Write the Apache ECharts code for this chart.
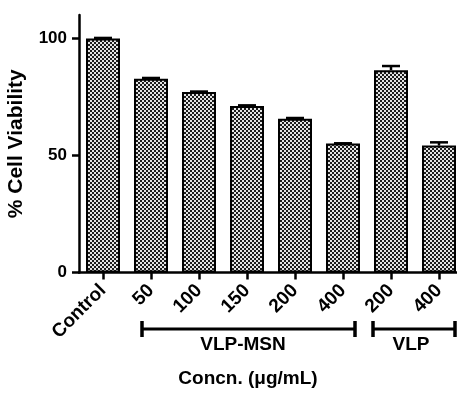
<!DOCTYPE html>
<html>
<head>
<meta charset="utf-8">
<script src="https://cdn.jsdelivr.net/npm/echarts@6/dist/echarts.min.js"></script>
<style>
  html, body { margin: 0; padding: 0; background: #fff; }
  #chart { width: 457px; height: 394px; }
</style>
</head>
<body>
<div id="chart"></div>
<script>
// Cell viability by treatment and concentration
const categories = ['Control', '50', '100', '150', '200', '400', '200', '400'];
const viability = [100, 82.8, 77.1, 71.1, 65.7, 55.1, 86.4, 54.2];
const errorSD = [0.2, 0.3, 0.2, 0.3, 0.3, 0.1, 1.8, 1.4];
const yTicks = [0, 50, 100];

// Treatment groups: name and the first/last category index they cover
const groupNames = ['VLP-MSN', 'VLP'];
const groupFirst = [1, 6];
const groupLast = [5, 7];

const FONT = '"Liberation Sans", Arial, sans-serif';

// Fine black/grey checkerboard fill used on every bar
function checkerPattern() {
  const c = document.createElement('canvas');
  c.width = 4; c.height = 4;
  const g = c.getContext('2d');
  g.fillStyle = '#e4e4e4';
  g.fillRect(0, 0, 4, 4);
  g.fillStyle = '#1c1c1c';
  g.fillRect(0, 0, 2, 2);
  g.fillRect(2, 2, 2, 2);
  return c;
}

const chart = echarts.init(document.getElementById('chart'), null, { renderer: 'canvas' });

const labelStyle = { color: '#000', fontWeight: 'bold', fontFamily: FONT };

chart.setOption({
  animation: false,
  grid: { left: 79, top: 15, width: 384, bottom: 121.5, containLabel: false, outerBoundsMode: 'none' },
  xAxis: {
    type: 'category',
    data: categories,
    axisLine: { show: true, lineStyle: { color: '#000', width: 2.5 } },
    axisTick: { show: true, alignWithLabel: true, length: 7, lineStyle: { color: '#000', width: 2.5 } },
    axisLabel: Object.assign({ rotate: 45, interval: 0, fontSize: 19, margin: 15 }, labelStyle),
    splitLine: { show: false }
  },
  yAxis: {
    type: 'value',
    min: 0,
    max: 110,
    name: '% Cell Viability',
    nameLocation: 'middle',
    nameGap: 52,
    nameTextStyle: Object.assign({ fontSize: 21 }, labelStyle),
    axisLine: { show: true, lineStyle: { color: '#000', width: 2.5 } },
    axisTick: { show: true, length: 7, customValues: yTicks, lineStyle: { color: '#000', width: 2.5 } },
    axisLabel: Object.assign({ fontSize: 17, margin: 12, customValues: yTicks }, labelStyle),
    splitLine: { show: false }
  },
  series: [
    {
      type: 'bar',
      data: viability,
      barWidth: 34,
      itemStyle: {
        color: { image: checkerPattern(), repeat: 'repeat' },
        borderColor: '#000',
        borderWidth: 2
      },
      z: 2
    },
    {
      type: 'custom',
      data: viability.map((v, i) => [i, v, errorSD[i]]),
      z: 3,
      renderItem: function (params, api) {
        const i = api.value(0);
        const v = api.value(1);
        const e = api.value(2);
        const base = api.coord([i, v]);
        const top = api.coord([i, v + e]);
        const half = 9;
        return {
          type: 'group',
          children: [
            { type: 'line', shape: { x1: top[0], y1: base[1], x2: top[0], y2: top[1] },
              style: { stroke: '#000', lineWidth: 2.5 } },
            { type: 'line', shape: { x1: top[0] - half, y1: top[1], x2: top[0] + half, y2: top[1] },
              style: { stroke: '#000', lineWidth: 2.5 } }
          ]
        };
      }
    }
  ]
});

// Group brackets under the category labels, positioned from the axis
const xAt = (i) => chart.convertToPixel({ xAxisIndex: 0 }, i);
const padLeft = [9, 18];
const padRight = [12, 16];
const bracketY = 329;
const capHalf = 8;
const graphics = [];
groupNames.forEach((name, g) => {
  const x1 = xAt(groupFirst[g]) - padLeft[g];
  const x2 = xAt(groupLast[g]) + padRight[g];
  const mid = (xAt(groupFirst[g]) + xAt(groupLast[g])) / 2 - 4;
  graphics.push(
    { type: 'line', shape: { x1: x1, y1: bracketY, x2: x2, y2: bracketY }, style: { stroke: '#000', lineWidth: 3 } },
    { type: 'line', shape: { x1: x1, y1: bracketY - capHalf, x2: x1, y2: bracketY + capHalf }, style: { stroke: '#000', lineWidth: 3.5 } },
    { type: 'line', shape: { x1: x2, y1: bracketY - capHalf, x2: x2, y2: bracketY + capHalf }, style: { stroke: '#000', lineWidth: 3.5 } },
    { type: 'text', x: mid, y: 345, style: { text: name, font: 'bold 19px ' + FONT, fill: '#000', align: 'center', verticalAlign: 'middle' } }
  );
});
graphics.push({
  type: 'text', x: 248, y: 379,
  style: { text: 'Concn. (\u03bcg/mL)', font: 'bold 19px ' + FONT, fill: '#000', align: 'center', verticalAlign: 'middle' }
});
chart.setOption({ graphic: graphics });
</script>
</body>
</html>
